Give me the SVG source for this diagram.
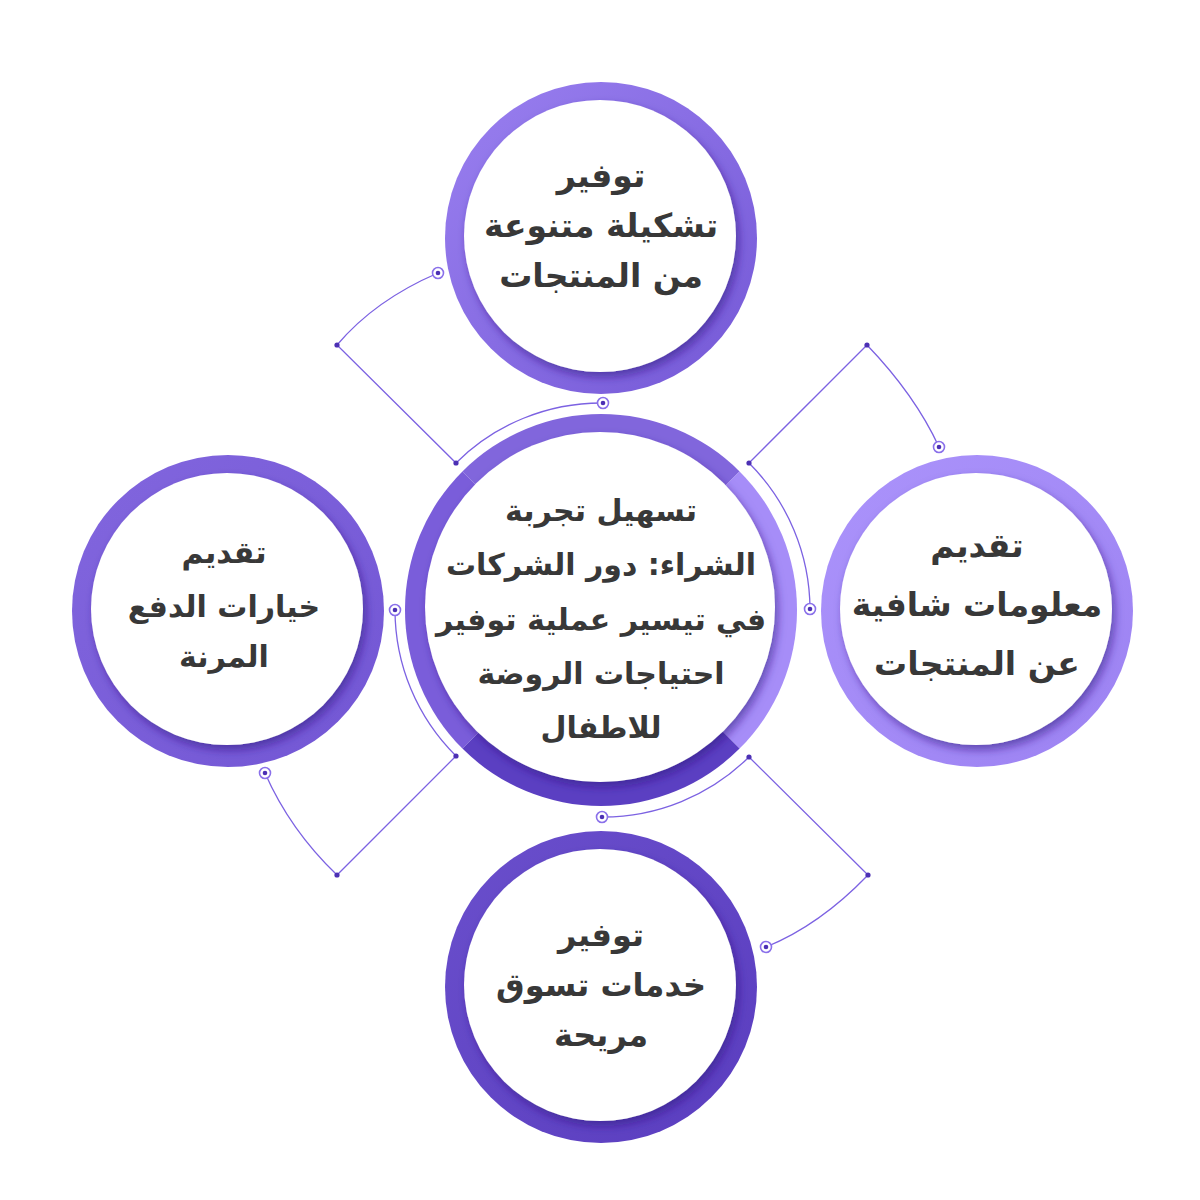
<svg xmlns="http://www.w3.org/2000/svg" width="1200" height="1200" viewBox="0 0 1200 1200">
<defs>
<filter id="inshadow" x="-20%" y="-20%" width="140%" height="140%">
<feDropShadow dx="3" dy="5" stdDeviation="4" flood-color="#2e1580" flood-opacity="0.55"/>
</filter>
<linearGradient id="gTop" x1="0" y1="0" x2="1" y2="1">
<stop offset="0" stop-color="#9a80f0"/><stop offset="1" stop-color="#7458d6"/>
</linearGradient>
<linearGradient id="gRight" x1="0" y1="0" x2="1" y2="1">
<stop offset="0" stop-color="#ab93fb"/><stop offset="1" stop-color="#9c82f2"/>
</linearGradient>
<linearGradient id="gLeft" x1="0" y1="0" x2="1" y2="1">
<stop offset="0" stop-color="#8266de"/><stop offset="1" stop-color="#7256d4"/>
</linearGradient>
<linearGradient id="gBottom" x1="0" y1="0" x2="1" y2="1">
<stop offset="0" stop-color="#6a4fcc"/><stop offset="1" stop-color="#5a3dbf"/>
</linearGradient>
</defs>
<style>
.lbl{font-family:"DejaVu Sans",sans-serif;font-weight:bold;fill:#383838;text-anchor:middle;direction:rtl}
.s33{font-size:33px}
.s32{font-size:32px}
.s30{font-size:30px}
.conn{fill:none;stroke:#7c62e2;stroke-width:1.3}
.dot{fill:#4c30b4}
.mk{fill:#fff;stroke:#8a70ea;stroke-width:1.6}
.inner{fill:#fff;filter:url(#inshadow)}
</style>
<rect width="1200" height="1200" fill="#fff"/>

<g id="connectors">
<path class="conn" d="M438,273 Q375,300 337,345 L456,463 A206,206 0 0 1 603,403"/>
<path class="conn" d="M749,463 L867,345 Q915,395 939,447"/>
<path class="conn" d="M749,463 A208,208 0 0 1 810,609"/>
<path class="conn" d="M749,757 A208,208 0 0 1 602,817"/>
<path class="conn" d="M749,757 L868,875 Q820,925 766,947"/>
<path class="conn" d="M395,610 A206,206 0 0 0 456,756 L337,875 Q290,830 265,773"/>
<circle class="dot" cx="337" cy="345" r="2.6"/>
<circle class="dot" cx="456" cy="463" r="2.6"/>
<circle class="dot" cx="867" cy="345" r="2.6"/>
<circle class="dot" cx="749" cy="463" r="2.6"/>
<circle class="dot" cx="749" cy="757" r="2.6"/>
<circle class="dot" cx="868" cy="875" r="2.6"/>
<circle class="dot" cx="456" cy="756" r="2.6"/>
<circle class="dot" cx="337" cy="875" r="2.6"/>
<g><circle class="mk" cx="438" cy="273" r="5.5"/><circle class="dot" cx="438" cy="273" r="2.3"/></g>
<g><circle class="mk" cx="603" cy="403" r="5.5"/><circle class="dot" cx="603" cy="403" r="2.3"/></g>
<g><circle class="mk" cx="939" cy="447" r="5.5"/><circle class="dot" cx="939" cy="447" r="2.3"/></g>
<g><circle class="mk" cx="810" cy="609" r="5.5"/><circle class="dot" cx="810" cy="609" r="2.3"/></g>
<g><circle class="mk" cx="602" cy="817" r="5.5"/><circle class="dot" cx="602" cy="817" r="2.3"/></g>
<g><circle class="mk" cx="766" cy="947" r="5.5"/><circle class="dot" cx="766" cy="947" r="2.3"/></g>
<g><circle class="mk" cx="395" cy="610" r="5.5"/><circle class="dot" cx="395" cy="610" r="2.3"/></g>
<g><circle class="mk" cx="265" cy="773" r="5.5"/><circle class="dot" cx="265" cy="773" r="2.3"/></g>
</g>

<g id="node-center">
<path d="M601,610 L462.4,471.4 A196,196 0 0 1 739.6,471.4 Z" fill="#8166dc"/>
<path d="M601,610 L739.6,471.4 A196,196 0 0 1 739.6,748.6 Z" fill="#a68df8"/>
<path d="M601,610 L739.6,748.6 A196,196 0 0 1 462.4,748.6 Z" fill="#5b3fc2"/>
<path d="M601,610 L462.4,748.6 A196,196 0 0 1 462.4,471.4 Z" fill="#7a5dda"/>
<circle class="inner" cx="600" cy="607" r="175"/>
<text class="lbl s30" x="601" y="521">تسهيل تجربة</text>
<text class="lbl s30" x="601" y="575">الشراء: دور الشركات</text>
<text class="lbl s30" x="601" y="630">في تيسير عملية توفير</text>
<text class="lbl s30" x="601" y="684">احتياجات الروضة</text>
<text class="lbl s30" x="601" y="738">للاطفال</text>
</g>

<g id="node-top">
<circle cx="601" cy="238" r="156" fill="url(#gTop)"/>
<circle class="inner" cx="600" cy="236" r="136"/>
<text class="lbl s33" x="601" y="187">توفير</text>
<text class="lbl s33" x="601" y="237">تشكيلة متنوعة</text>
<text class="lbl s33" x="601" y="287">من المنتجات</text>
</g>

<g id="node-right">
<circle cx="977" cy="611" r="156" fill="url(#gRight)"/>
<circle class="inner" cx="976" cy="609" r="136"/>
<text class="lbl s33" x="977" y="557">تقديم</text>
<text class="lbl s33" x="977" y="616">معلومات شافية</text>
<text class="lbl s33" x="977" y="675">عن المنتجات</text>
</g>

<g id="node-left">
<circle cx="228" cy="611" r="156" fill="url(#gLeft)"/>
<circle class="inner" cx="227" cy="609" r="136"/>
<text class="lbl s30" x="224" y="563">تقديم</text>
<text class="lbl s30" x="224" y="617">خيارات الدفع</text>
<text class="lbl s30" x="224" y="667">المرنة</text>
</g>

<g id="node-bottom">
<circle cx="601" cy="987" r="156" fill="url(#gBottom)"/>
<circle class="inner" cx="600" cy="985" r="136"/>
<text class="lbl s32" x="601" y="946">توفير</text>
<text class="lbl s32" x="601" y="996">خدمات تسوق</text>
<text class="lbl s32" x="601" y="1046">مريحة</text>
</g>
</svg>
